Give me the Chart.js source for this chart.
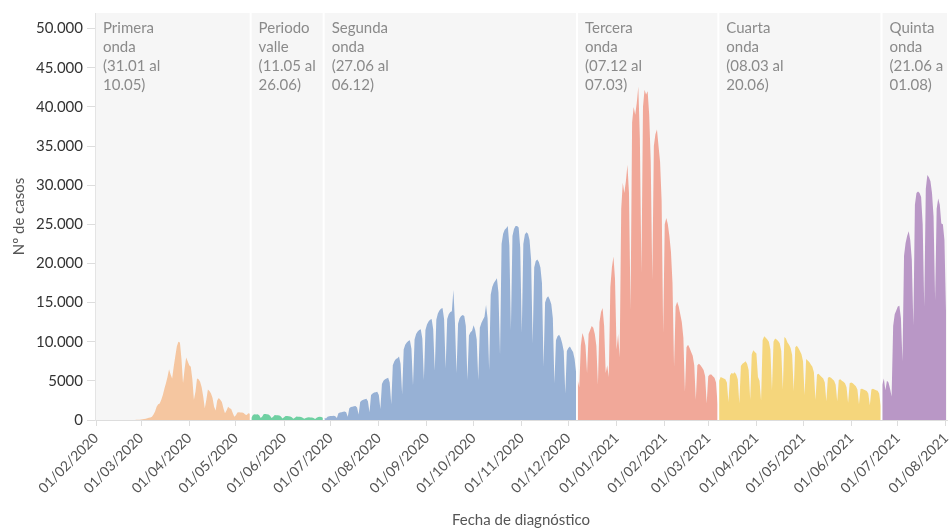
<!DOCTYPE html>
<html lang="es">
<head>
<meta charset="utf-8">
<title>Casos por fecha de diagnóstico</title>
<script src="https://cdn.jsdelivr.net/npm/chart.js@4.4.1/dist/chart.umd.min.js"></script>
<style>
    html, body { margin: 0; padding: 0; background: #ffffff; }
    #contenedor { width: 951px; height: 528px; }
</style>
</head>
<body>
<div id="contenedor"><canvas id="grafico_olas"></canvas></div>
<script>
// inicio de cada periodo (dd/mm/aaaa) y su texto
var inicio_olas = ['31/01/2020', '11/05/2020', '27/06/2020', '07/12/2020', '08/03/2021', '21/06/2021'];
var textos_olas = [
    ['Primera', 'onda', '(31.01 al', '10.05)'],
    ['Periodo', 'valle', '(11.05 al', '26.06)'],
    ['Segunda', 'onda', '(27.06 al', '06.12)'],
    ['Tercera', 'onda', '(07.12 al', '07.03)'],
    ['Cuarta', 'onda', '(08.03 al', '20.06)'],
    ['Quinta', 'onda', '(21.06 a', '01.08)']
];

// casos diarios, un valor por dia desde el inicio de cada periodo
var primera_onda = [
    0, 0, 0, 0, 0, 0, 0, 0, 0, 0,
    0, 0, 0, 0, 0, 0, 0, 0, 0, 0,
    0, 0, 0, 0, 0, 10, 15, 20, 30, 40,
    60, 80, 120, 160, 220, 280, 330,
    420, 700, 1100, 1700, 2000, 2100, 2600, 3200, 4000, 4700, 5500, 6500,
    5800, 5300, 6800, 8100, 9400, 10000, 9900, 7800,
    4700, 6500, 8000, 7500, 7000, 6800, 5200,
    2600, 3600, 5300, 5200, 4900, 4200, 3000,
    1500, 2600, 3900, 3700, 3400, 2800, 1700,
    1200, 2500, 2800, 2600, 2300, 1500, 850,
    1200, 1700, 1500, 1400, 900, 430, 600,
    950, 1000, 950, 950, 900, 700, 650, 850, 800
];
var periodo_valle = [
    300, 650, 750, 700, 720, 600, 250,
    450, 780, 760, 720, 700, 550, 250,
    400, 650, 620, 600, 580, 450, 200,
    350, 520, 500, 480, 450, 350, 150,
    300, 450, 420, 400, 380, 300, 150,
    250, 330, 350, 330, 320, 250, 120,
    300, 380, 400, 380, 300
];
var segunda_onda = [
    300, 200,
    420, 480, 500, 520, 540, 480,
    250, 850, 950, 1000, 1050, 1100, 1000,
    400, 1500, 1650, 1700, 1750, 1800, 1600,
    700, 2300, 2500, 2600, 2650, 2700, 2400,
    1000, 3200, 3400, 3500, 3550, 3600, 3200,
    1400, 4600, 5000, 5200, 5300, 5400, 4800,
    2000, 7000, 7500, 7800, 7900, 8100, 7200,
    3300, 9000, 9600, 9900, 10100, 10200, 9100,
    4400, 10300, 11000, 11300, 11500, 11600, 10400,
    5100, 11500, 12200, 12600, 12800, 12900, 11600,
    6300, 12800, 13600, 14000, 14200, 14300, 12900,
    6600, 12900, 13500, 13800, 13900, 16600, 12500,
    6000, 12300, 13000, 13300, 13400, 13300, 12000,
    5100, 10800, 11200, 11400, 12100, 11500, 10300,
    5100, 11800, 12400, 12800, 13200, 14700, 13000,
    6400, 16000, 17000, 17500, 17800, 18100, 16300,
    8300, 22500, 23800, 24300, 24500, 24800, 22300,
    11500, 23500, 24400, 24800, 24800, 24600, 22000,
    11100, 22500, 23700, 24000, 23800, 23000, 20500,
    9800, 19500, 20300, 20500, 20200, 19500, 17500,
    6800, 15000, 15600, 15800, 15400, 14800, 13000,
    4700, 10200, 10700, 10900, 10500, 9800, 8800,
    3400, 8800, 9200, 9400, 9000, 8700, 7800, 6000
];
var tercera_onda = [
    5100, 4200, 9500, 11100, 10500, 9500,
    6000, 11000, 11500, 12000, 11800, 11000, 9500,
    4500, 12500, 13800, 14300, 12000, 6000, 7000,
    5500, 17000, 19500, 20900, 18000, 9000, 11000,
    8000, 27000, 30300, 29000, 30500, 32600, 29000,
    14100, 38000, 40000, 39000, 40500, 42600, 36000,
    18800, 40000, 42200, 41600, 42000, 39000, 33000,
    17900, 35000, 36500, 37100, 35000, 33000, 28000,
    11100, 25000, 25800, 25000, 23500, 21500, 17500,
    6800, 14500, 15100, 14500, 13500, 12500, 10500,
    3600, 9300, 9600, 9200, 8700, 8200, 7000,
    2600, 7000, 7200, 7000, 6700, 6400, 5600,
    2100, 5600, 5800, 5800, 5600, 5400, 4800,
    2000
];
var cuarta_onda = [
    5000, 5500, 5400, 5300, 5200, 4800,
    2300, 5700, 6000, 5900, 6100, 5800, 5200,
    2100, 6900, 7200, 7300, 7500, 7200, 6400,
    2600, 8400, 8900, 8700, 8500, 5500, 5000,
    2500, 10200, 10700, 10500, 10300, 10000, 9000,
    3800, 10000, 10400, 10300, 10100, 9800, 8800,
    3900, 10600, 10400, 9900, 9600, 9200, 8300,
    3700, 9300, 9500, 9200, 8800, 8400, 7500,
    3200, 7800, 7600, 7400, 7100, 6800, 6100,
    2600, 5800, 5900, 5700, 5500, 5300, 4800,
    2400, 5400, 5500, 5400, 5200, 5000, 4500,
    2400, 5100, 5200, 5000, 4900, 4700, 4200,
    2200, 4700, 4800, 4700, 4500, 4300, 3900,
    2000, 3950, 4000, 3900, 3800, 3700, 3400,
    1900, 3900, 4000, 3900, 3800, 3750, 3400,
    1800
];
var quinta_onda = [
    4500, 5300, 3800, 5000, 4800, 4000,
    3000, 12000, 13500, 14000, 14500, 14600, 13000,
    7500, 21000, 22600, 23500, 24100, 23000, 20500,
    12100, 27500, 29000, 29200, 29000, 28500, 25000,
    14500, 29500, 31300, 31000, 30500, 29000, 26000,
    15300, 27000, 28300, 27500, 25100, 25000, 23000,
    14000
];

var ticks_fecha = ['01/02/2020', '01/03/2020', '01/04/2020', '01/05/2020', '01/06/2020', '01/07/2020',
    '01/08/2020', '01/09/2020', '01/10/2020', '01/11/2020', '01/12/2020', '01/01/2021', '01/02/2021',
    '01/03/2021', '01/04/2021', '01/05/2021', '01/06/2021', '01/07/2021', '01/08/2021'];
var ticks_casos = [0, 5000, 10000, 15000, 20000, 25000, 30000, 35000, 40000, 45000, 50000];
var ticks_casos_texto = ['0', '5000', '10.000', '15.000', '20.000', '25.000', '30.000', '35.000', '40.000', '45.000', '50.000'];

var colores_olas = ['#f5c6a0', '#6fd0a2', '#97b1d5', '#f1a899', '#f5d67c', '#b997c6'];
var fuente = 'Lato';

// dias transcurridos desde el 31/01/2020
function diaDesdeInicio(texto) {
    var p = texto.split('/');
    return (Date.UTC(+p[2], +p[1] - 1, +p[0]) - Date.UTC(2020, 0, 31)) / 86400000;
}

var olas = [primera_onda, periodo_valle, segunda_onda, tercera_onda, cuarta_onda, quinta_onda];

var datasets = olas.map(function (valores, n) {
    var inicio = diaDesdeInicio(inicio_olas[n]);
    return {
        data: valores.map(function (v, i) { return { x: inicio + i, y: v }; }),
        fill: 'origin',
        backgroundColor: colores_olas[n],
        borderWidth: 0,
        pointRadius: 0,
        tension: 0
    };
});

// fondo gris con separadores y nombres de cada ola
var fondoOlas = {
    id: 'fondoOlas',
    beforeDraw: function (chart) {
        var ctx = chart.ctx;
        var area = chart.chartArea;
        var escalaX = chart.scales.x;

        ctx.save();
        ctx.fillStyle = '#f6f6f6';
        ctx.fillRect(area.left, area.top, area.right - area.left, area.bottom - area.top);

        var bordes = [area.left];
        ctx.strokeStyle = '#ffffff';
        ctx.lineWidth = 2;
        for (var n = 1; n < inicio_olas.length; n++) {
            var px = escalaX.getPixelForValue(diaDesdeInicio(inicio_olas[n]) - 0.5);
            bordes.push(px);
            ctx.beginPath();
            ctx.moveTo(px, area.top);
            ctx.lineTo(px, area.bottom);
            ctx.stroke();
        }

        ctx.fillStyle = '#8a8a8a';
        ctx.font = '15px ' + fuente;
        ctx.textBaseline = 'middle';
        ctx.textAlign = 'left';
        textos_olas.forEach(function (lineas, n) {
            lineas.forEach(function (linea, k) {
                ctx.fillText(linea, bordes[n] + 8, area.top + 15 + k * 19);
            });
        });
        ctx.restore();
    }
};

new Chart(document.getElementById('grafico_olas'), {
    type: 'line',
    data: { datasets: datasets },
    plugins: [fondoOlas],
    options: {
        responsive: true,
        maintainAspectRatio: false,
        animation: false,
        layout: { padding: { top: 13, right: 4, left: 0, bottom: 0 } },
        plugins: {
            legend: { display: false },
            tooltip: { enabled: false }
        },
        scales: {
            x: {
                type: 'linear',
                min: 0.35,
                max: 548.65,
                afterBuildTicks: function (escala) {
                    escala.ticks = ticks_fecha.map(function (t) { return { value: diaDesdeInicio(t) }; });
                },
                afterFit: function (escala) {
                    escala.height = 108;
                    escala.paddingLeft = 0;
                    escala.paddingRight = 0;
                },
                ticks: {
                    autoSkip: false,
                    minRotation: 45,
                    maxRotation: 45,
                    padding: 4,
                    color: '#555555',
                    font: { family: fuente, size: 14 },
                    callback: function (valor, i) { return ticks_fecha[i]; }
                },
                grid: { drawOnChartArea: false, color: '#dddddd', tickLength: 6 },
                border: { color: '#dddddd' },
                title: {
                    display: true,
                    text: 'Fecha de diagnóstico',
                    color: '#555555',
                    font: { family: fuente, size: 15, lineHeight: 1 },
                    padding: { top: 0, bottom: 0 }
                }
            },
            y: {
                min: 0,
                max: 52000,
                afterBuildTicks: function (escala) {
                    escala.ticks = ticks_casos.map(function (v) { return { value: v }; });
                },
                afterFit: function (escala) {
                    escala.width = 95;
                    escala.paddingTop = 0;
                    escala.paddingBottom = 0;
                },
                ticks: {
                    padding: 4,
                    color: '#333333',
                    font: { family: fuente, size: 15 },
                    callback: function (valor, i) { return ticks_casos_texto[i]; }
                },
                grid: { drawOnChartArea: false, color: '#dddddd', tickLength: 8 },
                border: { color: '#e4e4e4' },
                title: {
                    display: true,
                    text: 'Nº de casos',
                    color: '#555555',
                    font: { family: fuente, size: 15, lineHeight: 1.2 },
                    padding: { top: 10, bottom: 0 }
                }
            }
        }
    }
});
</script>
</body>
</html>
